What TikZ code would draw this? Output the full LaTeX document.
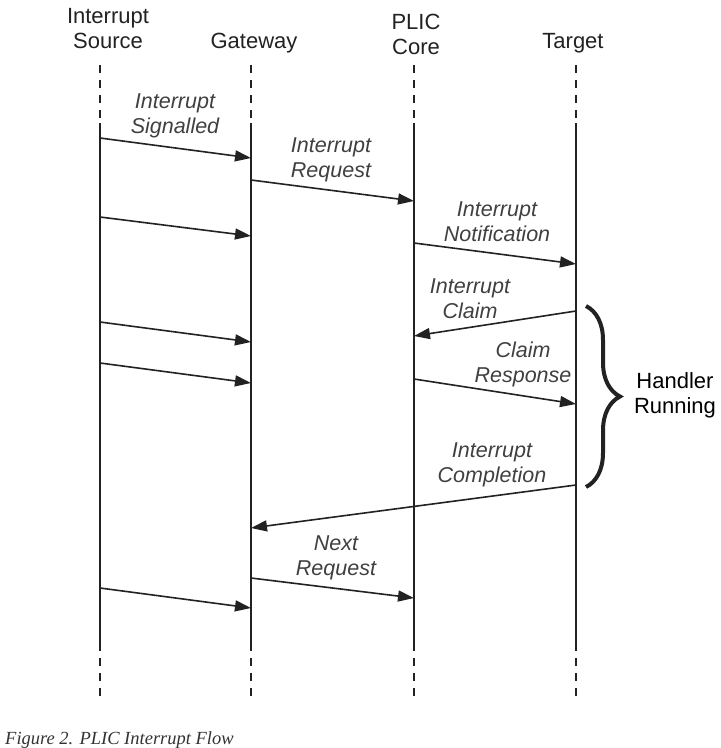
\documentclass[tikz,border=0pt]{standalone}
\usepackage{fontspec}
\setmainfont{Liberation Sans}
\newfontfamily\capfont{Liberation Serif}
\usetikzlibrary{arrows.meta,decorations.pathreplacing}
\definecolor{ink}{HTML}{222222}
\definecolor{lbl}{HTML}{404040}
\definecolor{capc}{HTML}{333333}
\tikzset{
  head/.style={text=ink,align=center,inner sep=0pt,font=\fontsize{22pt}{25pt}\selectfont},
  msglbl/.style={text=lbl,align=center,inner sep=0pt,font=\fontsize{21.5pt}{25pt}\selectfont\itshape},
  life/.style={draw=ink,line width=1.8pt},
  lifedash/.style={draw=ink,line width=1.8pt,dash pattern=on 8pt off 7pt},
  msg/.style={draw=ink,line width=1.6pt,-{Triangle[length=16pt,width=11pt]}},
}
\begin{document}
\begin{tikzpicture}[x=1pt,y=-1pt]
\useasboundingbox (0,0) rectangle (721,748);
% headers
\node[head] (hsrc) at (108,29) {Interrupt\\Source};
\node[head] (hgw) at (254,43) {Gateway};
\node[head] (hplic) at (416,34) {PLIC\\Core};
\node[head] (htgt) at (573,43) {Target};
% lifelines
\foreach \n/\x in {S/100,G/251,P/414,T/576}{
  \coordinate (\n top) at (\x,65);
  \coordinate (\n a) at (\x,123);
  \coordinate (\n b) at (\x,643);
  \coordinate (\n bot) at (\x,699);
  \draw[lifedash] (\n top) -- (\n a);
  \draw[life] (\n a) -- (\n b);
  \draw[lifedash] (\n b) -- (\n bot);
}
% message endpoints
\coordinate (m1a) at (100,138); \coordinate (m1b) at (251,158);
\coordinate (m2a) at (251,180); \coordinate (m2b) at (414,201);
\coordinate (m3a) at (100,217); \coordinate (m3b) at (251,236);
\coordinate (m4a) at (414,243); \coordinate (m4b) at (576,264);
\coordinate (m5a) at (576,311); \coordinate (m5b) at (414,336);
\coordinate (m6a) at (100,322); \coordinate (m6b) at (251,342);
\coordinate (m7a) at (100,363); \coordinate (m7b) at (251,383);
\coordinate (m8a) at (414,379); \coordinate (m8b) at (576,404);
\coordinate (m9a) at (576,485); \coordinate (m9b) at (251,528);
\coordinate (m10a) at (251,578); \coordinate (m10b) at (414,598);
\coordinate (m11a) at (100,588); \coordinate (m11b) at (251,608);
\foreach \i in {1,...,11}{\draw[msg] (m\i a) -- (m\i b);}
% labels
\node[msglbl] (l1) at (175,116) {Interrupt\\Signalled};
\node[msglbl] (l2) at (331,160) {Interrupt\\Request};
\node[msglbl] (l4) at (497,222) {Interrupt\\Notification};
\node[msglbl] (l5) at (470,299) {Interrupt\\Claim};
\node[msglbl] (l8) at (523,364) {Claim\\Response};
\node[msglbl] (l9) at (492,465) {Interrupt\\Completion};
\node[msglbl] (l10) at (336,558) {Next\\Request};
% brace
\coordinate (br1) at (586,306);
\coordinate (br2) at (586,487);
\draw[ink,line width=4pt,decoration={brace,amplitude=34pt,aspect=0.5},decorate] (br1) -- (br2);
\node[head,text=black] (hr) at (675,395) {Handler\\Running};
% caption
\node[anchor=base west,inner sep=0pt,text=capc,font=\capfont\itshape\fontsize{18.5pt}{20pt}\selectfont] (cap) at (5,744) {Figure 2. PLIC Interrupt Flow};
\end{tikzpicture}
\end{document}
